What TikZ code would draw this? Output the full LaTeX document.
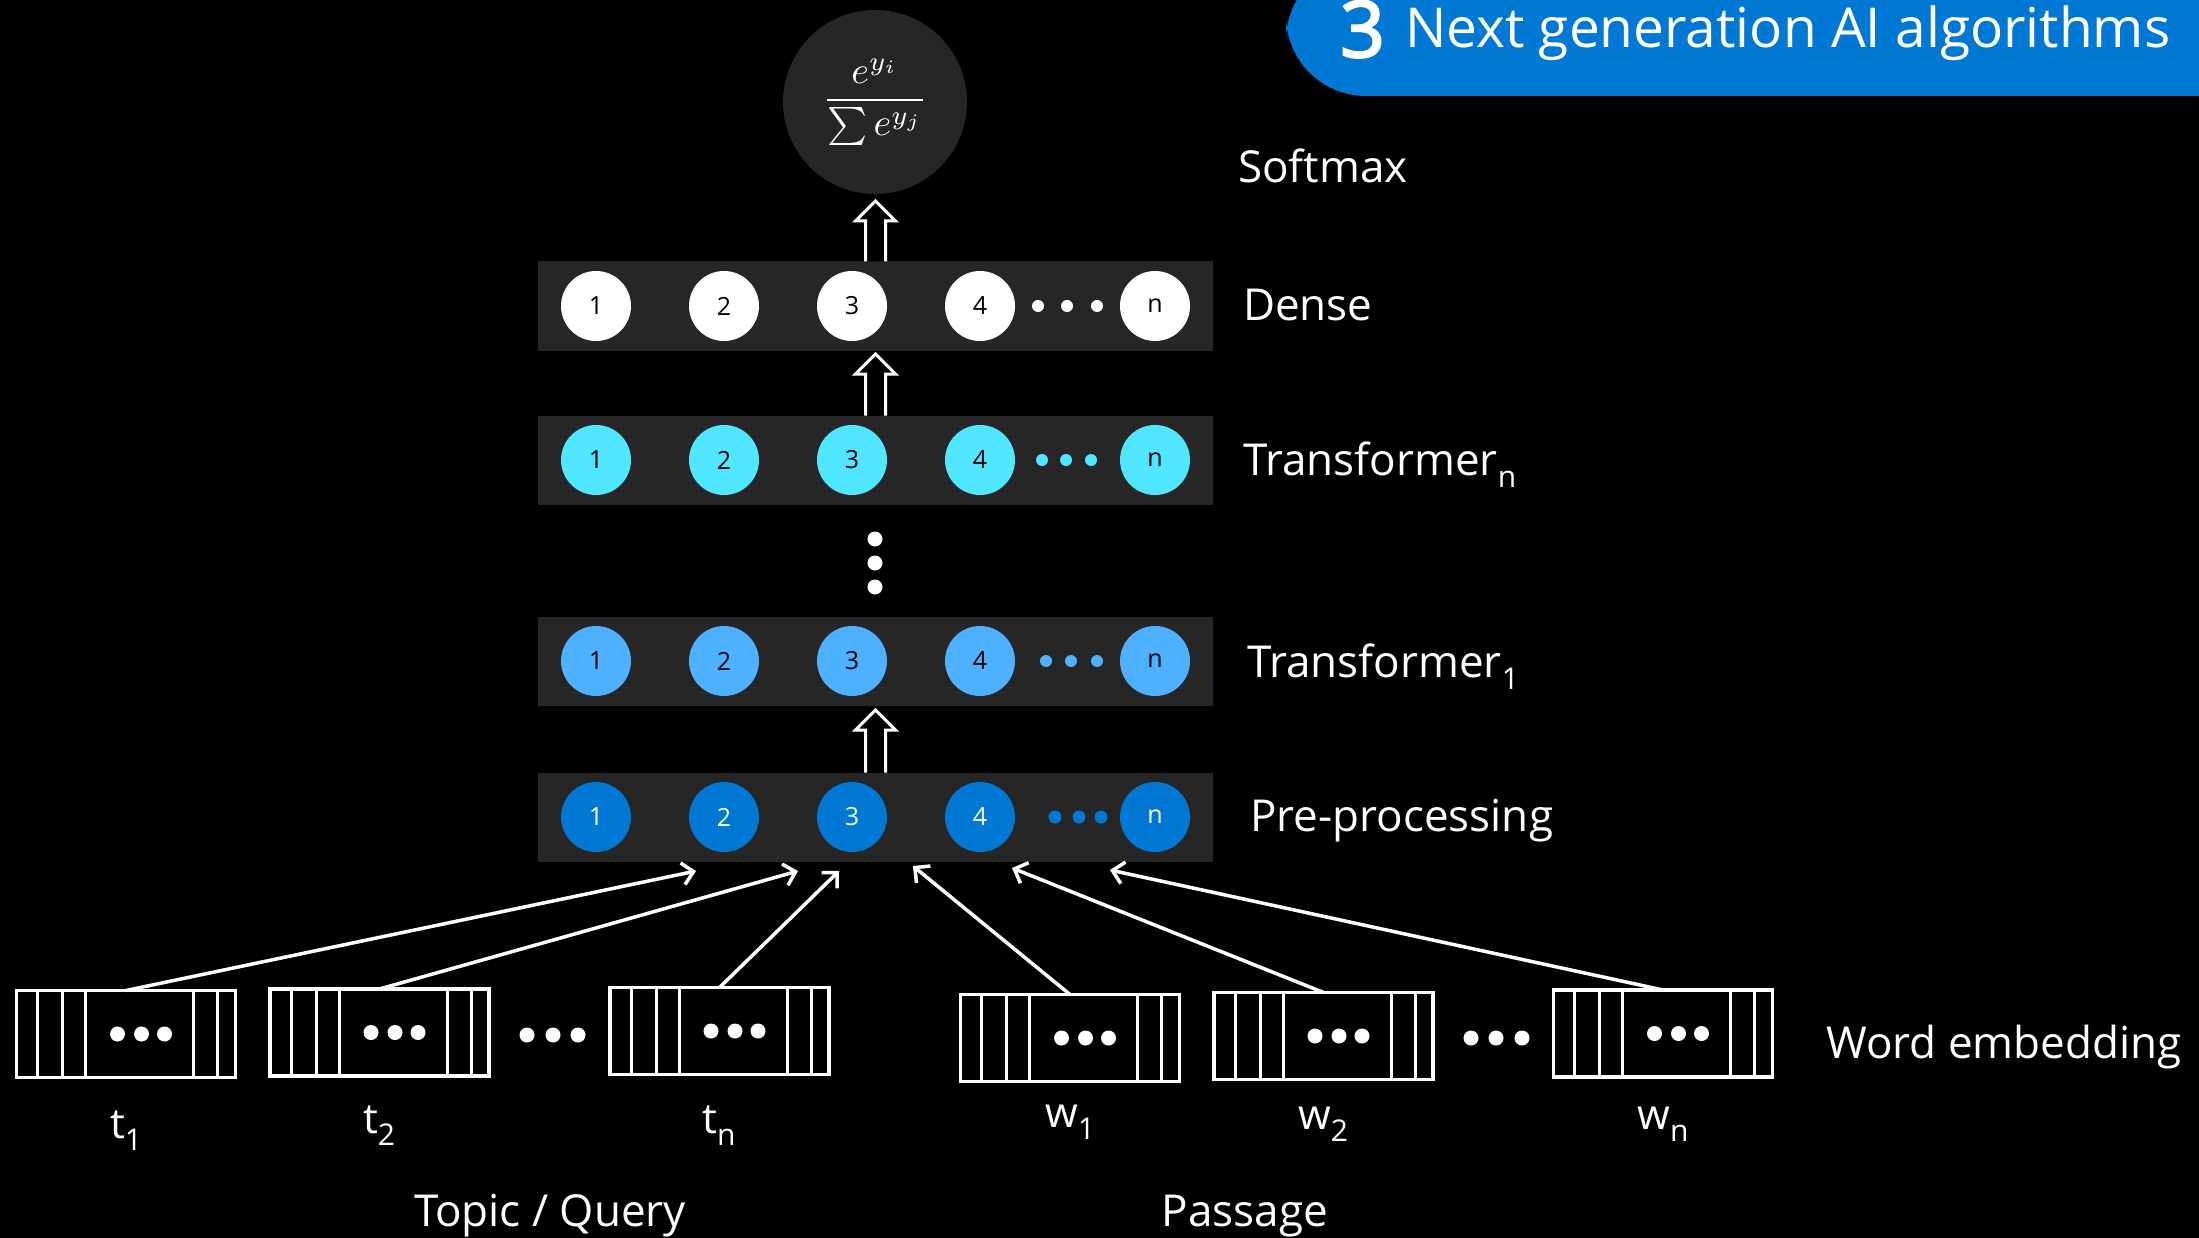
\documentclass[tikz,border=0pt]{standalone}
\usepackage[no-math]{fontspec}
\usepackage{graphicx}
\setmainfont{Open Sans}
\newfontfamily\numfont[FakeBold=3]{Open Sans}
\usetikzlibrary{arrows.meta,calc}
\definecolor{barcol}{HTML}{262626}
\definecolor{msblue}{HTML}{0078D4}
\definecolor{tonecol}{HTML}{4DB1FF}
\definecolor{tncol}{HTML}{50E6FF}
\newcommand\fs[1]{\fontsize{#1}{#1}\selectfont}
\newcommand\lowsub[2]{#1\raisebox{-12pt}{\fs{30}#2}}
\tikzset{
  barnode/.style={draw=none,fill=barcol,minimum width=675pt,minimum height=89pt,inner sep=0,outer sep=0},
  cnode/.style={circle,draw=none,minimum size=70pt,inner sep=0,font=\fs{25}},
  layerlabel/.style={anchor=base west,inner sep=0,text=white,font=\fs{44}},
  wordlabel/.style={anchor=base,inner sep=0,text=white,font=\fs{42}},
  embnode/.style={draw=white,line width=3.5pt,minimum width=219pt,minimum height=87pt,inner sep=0,outer sep=0},
  embline/.style={draw=white,line width=3pt},
  inarrow/.style={draw=white,line width=3.5pt,-{Straight Barb[length=11pt,width=22pt]}},
  hollowarrow/.style={draw=white,fill=black,line width=3pt,line join=miter},
  dotfill/.style={fill=white}
}
\newcommand\embbox[3]{%
  \node[embnode] (#1) at (#2,#3) {};
  \foreach \dx in {21,46,69,177,201}
    \draw[embline] ([xshift=\dx pt]#1.north west) -- ([xshift=\dx pt]#1.south west);
  \foreach \dx in {101,125,148}
    \fill[dotfill] ([xshift=\dx pt]#1.west) circle[radius=7.5pt];
}
\newcommand\layer[6]{%
  \node[barnode] (#1) at (875.5,#2) {};
  \foreach \i/\x in {1/596,2/724,3/852,4/980,n/1155}
    \node[cnode,fill=#3,text=#4] (#1-\i) at (\x,#2) {\i};
  \foreach \x in {#5}
    \fill[#3] (\x,#2) circle[radius=#6pt];
}
\newcommand\hollowarr[2]{%
  \draw[hollowarrow] let \p1=(#1), \p2=(#2) in
    (\x1-10pt,\y1) -- (\x1-10pt,\y2-20pt) -- (\x1-20pt,\y2-20pt) -- (\x1,\y2)
    -- (\x1+20pt,\y2-20pt) -- (\x1+10pt,\y2-20pt) -- (\x1+10pt,\y1);
}
\begin{document}
\begin{tikzpicture}[x=1pt,y=-1pt]
\useasboundingbox (0,0) rectangle (2199,1238);
\fill[black] (0,0) rectangle (2199,1238);

% title banner
\fill[msblue,rounded corners=80pt] (1286,-40) rectangle (2320,96);
\node[anchor=base west,inner sep=0,text=white,font=\numfont\fs{78}] (num) at (1340,57) {3};
\node[anchor=base west,inner sep=0,text=white,font=\fs{55}] (title) at (1405,48) {Next generation AI algorithms};

% softmax
\node[circle,fill=barcol,minimum size=184pt,inner sep=0,text=white] (soft) at (875,102)
  {\scalebox{3.8}{$\displaystyle\frac{e^{y_i}}{\sum e^{y_j}}$}};

% layers
\layer{dense}{306}{white}{black}{1038,1067,1097}{6}
\layer{tn}{460}{tncol}{black}{1042,1066,1091}{6}
\layer{tone}{661}{tonecol}{black}{1046,1071,1097}{6}
\layer{pre}{817}{msblue}{white}{1055,1079,1101}{6.5}

% vertical dots
\foreach \y/\k in {539/a,563/b,587/c}
  \node[circle,fill=white,minimum size=15pt,inner sep=0] (vd\k) at (875,\y) {};

% hollow arrows
\coordinate (h1) at (875,201);
\coordinate (h2) at (875,354);
\coordinate (h3) at (875,710);
\hollowarr{dense.north}{h1}
\hollowarr{tn.north}{h2}
\hollowarr{pre.north}{h3}

% labels
\node[layerlabel] (lsoft) at (1238,183) {Softmax};
\node[layerlabel] (ldense) at (1243,321) {Dense};
\node[layerlabel] (ltn) at (1243,475) {\lowsub{Transformer}{n}};
\node[layerlabel] (ltone) at (1247,677) {\lowsub{Transformer}{1}};
\node[layerlabel] (lpre) at (1250,831) {Pre-processing};
\node[layerlabel] (lword) at (1826,1058) {Word embedding};

% embedding boxes
\embbox{t1}{126}{1034}
\embbox{t2}{379.5}{1032.5}
\embbox{tnb}{719.5}{1031}
\embbox{w1}{1070}{1038}
\embbox{w2}{1323.5}{1036}
\embbox{wn}{1663}{1033.5}

\foreach \x/\k in {527/a,553/b,578/c}
  \node[circle,fill=white,minimum size=15pt,inner sep=0] (md\k) at (\x,1035) {};
\foreach \x/\k in {1471/a,1496/b,1522/c}
  \node[circle,fill=white,minimum size=15pt,inner sep=0] (me\k) at (\x,1038) {};

% arrows into pre-processing
\coordinate (p1) at (696,871);
\coordinate (p2) at (798,871);
\coordinate (p3) at (839,871);
\coordinate (p4) at (913,866);
\coordinate (p5) at (1012,868);
\coordinate (p6) at (1110,870);
\draw[inarrow] (t1.north) -- (p1);
\draw[inarrow] (t2.north) -- (p2);
\draw[inarrow] (tnb.north) -- (p3);
\draw[inarrow] (w1.north) -- (p4);
\draw[inarrow] (w2.north) -- (p5);
\draw[inarrow] (wn.north) -- (p6);

% word labels
\node[wordlabel] (lt1) at (126,1138) {\lowsub{t}{1}};
\node[wordlabel] (lt2) at (379,1133) {\lowsub{t}{2}};
\node[wordlabel] (ltn2) at (719,1133) {\lowsub{t}{n}};
\node[wordlabel] (lw1) at (1070,1127) {\lowsub{w}{1}};
\node[wordlabel] (lw2) at (1323,1129) {\lowsub{w}{2}};
\node[wordlabel] (lwn) at (1663,1129) {\lowsub{w}{n}};

\node[anchor=base,inner sep=0,text=white,font=\fs{44}] (topic) at (550,1226) {Topic / Query};
\node[anchor=base,inner sep=0,text=white,font=\fs{44}] (passage) at (1245,1226) {Passage};
\end{tikzpicture}
\end{document}
